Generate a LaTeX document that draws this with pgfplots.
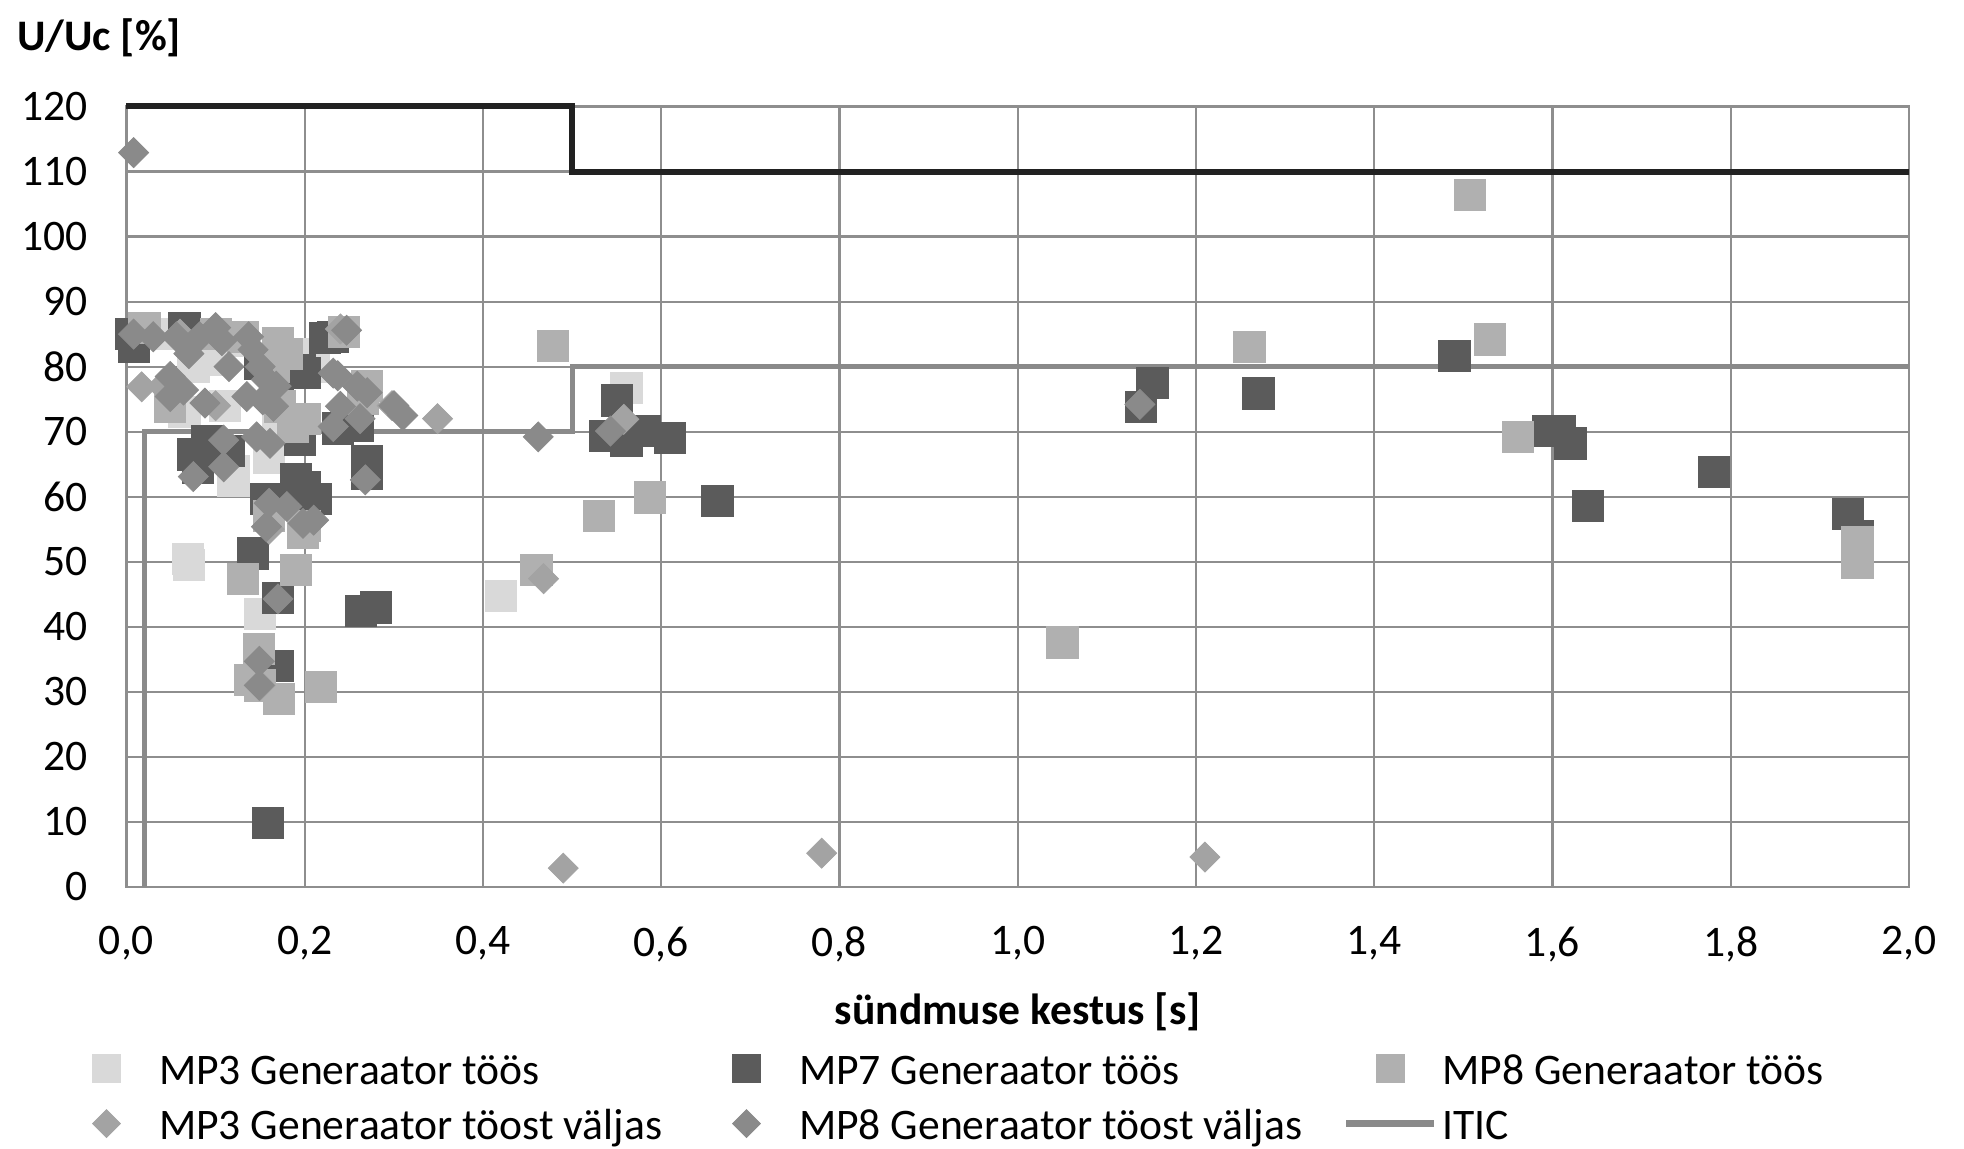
\documentclass[border=0pt]{standalone}
\usepackage{pgfplots}
\pgfplotsset{compat=1.18}
\usepackage{fontspec}
\setmainfont{Carlito}
\definecolor{cmpthree}{HTML}{D9D9D9}
\definecolor{cmpseven}{HTML}{5B5B5B}
\definecolor{cmpeight}{HTML}{B0B0B0}
\definecolor{cdthree}{HTML}{A3A3A3}
\definecolor{cdeight}{HTML}{8A8A8A}
\definecolor{gridc}{HTML}{8E8E8E}
\definecolor{itic}{HTML}{8A8A8A}
\newcommand{\fs}{\fontsize{21.8}{26}\selectfont}
\newcommand{\lt}[1]{\makebox[255pt][l]{#1\vphantom{Äj}}}
\pgfplotsset{
  sqm/.style={only marks, mark=square*, mark size=7.8pt, mark options={draw=#1, fill=#1}, color=#1,
    legend image code/.code={\path[draw=none,fill=none] (-22pt,-12pt) rectangle (26.3pt,12pt); \draw[##1, mark size=7pt] plot coordinates {(0pt,0pt)};}},
  dim/.style={only marks, mark=square*, mark size=5.3pt, mark options={draw=#1, fill=#1, rotate=45}, color=#1,
    legend image code/.code={\path[draw=none,fill=none] (-22pt,-12pt) rectangle (26.3pt,12pt); \draw[##1, mark size=4.9pt] plot coordinates {(0pt,0pt)};}},
  iticline/.style={color=#1, line width=2.5pt, mark=none,
    legend image code/.code={\path[draw=none,fill=none] (-22pt,-12pt) rectangle (26.3pt,12pt); \draw[##1, line width=3.6pt] (-22pt,0pt) -- (22pt,0pt);}},
}
\begin{document}
\begin{tikzpicture}
\begin{axis}[
  name=ax, at={(0pt,0pt)}, anchor=south west,
  scale only axis, width=891.25pt, height=390.25pt,
  xmin=0, xmax=2, ymin=0, ymax=120,
  clip=false,
  xtick={0,0.2,0.4,0.6,0.8,1,1.2,1.4,1.6,1.8,2},
  ytick={0,10,20,30,40,50,60,70,80,90,100,110,120},
  grid=major, grid style={draw=gridc, line width=1.1pt},
  axis line style={draw=gridc, line width=1.1pt},
  major tick length=0pt,
  /pgf/number format/assume math mode=true,
  tick label style={font=\fs, text=black},
  x tick label style={/pgf/number format/.cd, fixed, fixed zerofill, precision=1, use comma, /tikz/.cd, yshift=-16.3pt},
  y tick label style={xshift=-16pt},
  xlabel={sündmuse kestus [s]},
  ylabel={U/Uc [\%]},
  every axis x label/.style={at={(axis description cs:0.5,0)}, anchor=center, yshift=-62.4pt, font=\fs\bfseries},
  every axis y label/.style={at={(axis description cs:0,1)}, anchor=west, xshift=-58.25pt, yshift=34.5pt, font=\fs\bfseries},
  legend columns=3,
  legend cell align=left,
  legend style={at={(axis description cs:0,0)}, anchor=north west, xshift=-32pt, yshift=-78.8pt,
    draw=none, fill=none, inner sep=0pt, outer sep=0pt, font=\fs, row sep=3.5pt,
    nodes={inner sep=0pt},
    /tikz/every even column/.append style={column sep=16.7pt}},
]
% MP3 Generaator toos
\addplot[sqm=cmpthree] coordinates {
(0.045,85) (0.075,80) (0.10,81) (0.11,74) (0.065,73) (0.16,66) (0.12,62.5) (0.12,64)
(0.20,82) (0.21,80) (0.069,50.5) (0.07,49.5) (0.15,42) (0.42,44.7) (0.561,76.7) (0.17,72) (0.13,84)
};
\addlegendentry{\lt{MP3 Generaator töös}}
% MP7 Generaator toos
\addplot[sqm=cmpseven] coordinates {
(0.005,85) (0.008,83) (0.065,86) (0.075,66.5) (0.09,68.5) (0.08,64.5) (0.115,67) (0.142,51.3)
(0.157,59.7) (0.17,44.5) (0.17,34) (0.159,9.8) (0.195,79.5) (0.19,62.8) (0.20,61.5) (0.212,59.7)
(0.195,68.7) (0.223,84.4) (0.232,84.6) (0.237,70.5) (0.259,70.9) (0.27,65.5) (0.27,63.5)
(0.263,42.4) (0.28,43) (0.537,69.4) (0.55,74.8) (0.561,68.6) (0.582,70.1) (0.61,69) (0.663,59.3)
(1.138,73.8) (1.151,77.5) (1.27,75.9) (1.49,81.7) (1.595,70.1) (1.608,70.1) (1.62,68.2) (1.64,58.6)
(1.781,63.8) (1.931,57.4) (1.942,54) (0.15,80.5) (0.17,76) (0.2,79)
};
\addlegendentry{\lt{MP7 Generaator töös}}
% MP8 Generaator toos
\addplot[sqm=cmpeight] coordinates {
(0.478,83.2) (0.53,57) (0.587,59.9) (0.46,48.7) (1.05,37.6) (1.26,83) (1.507,106.4) (1.53,84.2)
(1.561,69.2) (1.942,53) (1.942,49.9) (0.131,47.4) (0.19,48.7) (0.218,30.8) (0.139,31.8) (0.171,28.9)
(0.149,36.6) (0.15,31) (0.2,55.5) (0.198,54.4) (0.131,84.6) (0.17,83.6) (0.049,73.9) (0.172,73.9)
(0.187,70.8) (0.244,85.4) (0.27,77) (0.265,75) (0.165,80) (0.18,82) (0.02,86) (0.1,85) (0.2,72) (0.16,57)
};
\addlegendentry{\lt{MP8 Generaator töös}}
% MP3 Generaator toost valjas
\addplot[dim=cdthree] coordinates {
(0.49,2.9) (0.78,5.2) (1.21,4.6) (0.017,76.9) (0.06,85) (0.349,72) (0.468,47.4) (0.558,71.9)
(0.298,74) (0.24,85.8) (0.16,55) (0.15,31) (0.1,74) (0.04,77)
};
\addlegendentry{\lt{MP3 Generaator töost väljas}}
% MP8 Generaator toost valjas
\addplot[dim=cdeight] coordinates {
(0.008,112.9) (0.008,85) (0.03,84.6) (0.056,84.6) (0.082,84.6) (0.107,84) (0.137,84.6) (0.049,78.5)
(0.064,76.4) (0.049,75.4) (0.088,74.4) (0.142,82.6) (0.15,80) (0.157,78) (0.135,75.4) (0.153,74.9)
(0.168,77) (0.165,73.9) (0.146,69.2) (0.161,68.2) (0.109,68.7) (0.109,64.6) (0.075,63.1) (0.157,55.4)
(0.198,55.9) (0.18,58.5) (0.21,56.4) (0.247,85.6) (0.232,79) (0.24,73.9) (0.232,70.8) (0.237,78.6)
(0.259,77) (0.27,76) (0.262,72) (0.268,62.6) (0.17,44.3) (0.149,34.7) (0.149,31) (0.16,59)
(0.31,72.5) (0.3,74) (0.462,69.2) (0.543,70.1) (1.137,74.2) (0.115,80) (0.07,82) (0.1,86)
};
\addlegendentry{\lt{MP8 Generaator töost väljas}}
% ITIC
\addplot[iticline=itic] coordinates {(0.02,0) (0.02,70) (0.5,70) (0.5,80) (2.0,80)};
\addlegendentry{\lt{ITIC}}
\addplot[color=black!87, line width=3pt, mark=none, forget plot]
  coordinates {(0,120) (0.5,120) (0.5,110) (2.0,110)};
\end{axis}
\pgfresetboundingbox
\path[use as bounding box] ([shift={(-63.25pt,-131pt)}]ax.south west) rectangle ([shift={(918.75pt,443.5pt)}]ax.south west);
\end{tikzpicture}
\end{document}
